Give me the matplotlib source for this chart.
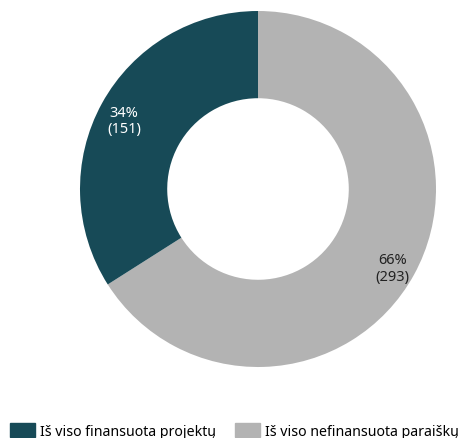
import matplotlib
matplotlib.use("Agg")
import matplotlib.pyplot as plt
from matplotlib.patches import Patch
import numpy as np

# data
labels = ["Iš viso nefinansuota paraiškų", "Iš viso finansuota projektų"]
values = [293, 151]
percents = [66, 34]
colors = ["#B3B3B3", "#174A57"]
text_colors = ["#222222", "white"]

plt.rcParams['font.family'] = ['Noto Sans', 'DejaVu Sans']

fig = plt.figure(figsize=(4.59, 4.39), dpi=100)
ax = fig.add_axes([80/459, 71/439, 356/459, 356/439])

wedges, _ = ax.pie(values, colors=colors, startangle=90, counterclock=False,
                   radius=1, wedgeprops=dict(width=0.49, edgecolor='none'))

for w, v, p, tc in zip(wedges, values, percents, text_colors):
    mid = (w.theta1 + w.theta2) / 2
    r = 0.86
    x = r*np.cos(np.radians(mid))
    y = r*np.sin(np.radians(mid)) - 0.03
    ax.text(x, y, f"{p}%\n({v})", ha='center', va='center', color=tc,
            fontsize=10.5, linespacing=1.15)

ax.set_xlim(-1, 1)
ax.set_ylim(-1, 1)

handles = [Patch(color=colors[1], label=labels[1]),
           Patch(color=colors[0], label=labels[0])]
fig.legend(handles=handles, loc='upper left', bbox_to_anchor=(10/459, 0.035),
           ncol=2, frameon=False, fontsize=10.2, handlelength=1.75,
           handleheight=1.2, handletextpad=0.4, columnspacing=1.3,
           borderaxespad=0, borderpad=0)

fig.savefig('out.png', dpi=100)
